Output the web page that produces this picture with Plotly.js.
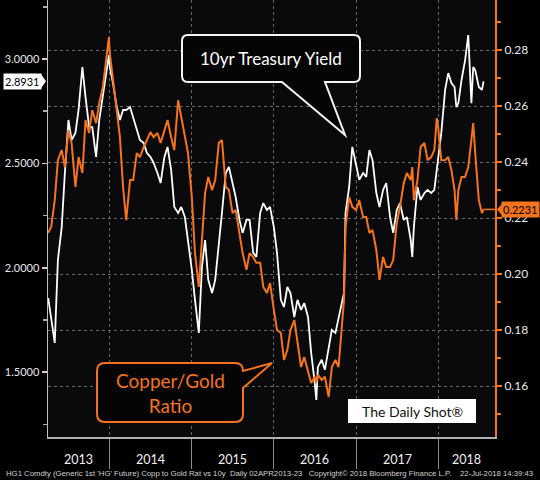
<!DOCTYPE html>
<html><head><meta charset="utf-8">
<script src="https://cdn.plot.ly/plotly-3.0.1.min.js"></script>
<style>html,body{margin:0;padding:0;background:#000;}#chart{width:540px;height:480px;}</style>
</head><body><div id="chart"></div>
<script>
// ---- data ----
const dates = [
'2013-04-02','2013-04-15','2013-05-01','2013-05-15','2013-06-01','2013-06-15','2013-07-01','2013-07-15','2013-08-01','2013-08-15','2013-09-01','2013-09-15','2013-10-01','2013-10-15','2013-11-01','2013-11-15','2013-12-01','2013-12-15','2013-12-28',
'2014-01-01','2014-01-15','2014-02-01','2014-02-15','2014-03-01','2014-03-15','2014-04-01','2014-04-15','2014-05-01','2014-05-15','2014-06-01','2014-06-15','2014-07-01','2014-07-15','2014-08-01','2014-08-15','2014-09-01','2014-09-15','2014-10-01','2014-10-15','2014-11-01','2014-11-15','2014-12-01','2014-12-15',
'2015-01-01','2015-01-15','2015-02-01','2015-02-15','2015-03-01','2015-03-15','2015-04-01','2015-04-15','2015-05-01','2015-05-15','2015-06-01','2015-06-15','2015-07-01','2015-07-15','2015-08-01','2015-08-15','2015-09-01','2015-09-15','2015-10-01','2015-10-15','2015-11-01','2015-11-15','2015-12-01','2015-12-15',
'2016-01-01','2016-01-15','2016-02-01','2016-02-15','2016-03-01','2016-03-15','2016-04-01','2016-04-15','2016-05-01','2016-05-15','2016-06-01','2016-06-15','2016-07-01','2016-07-08','2016-07-15','2016-08-01','2016-08-15','2016-09-01','2016-09-15','2016-10-01','2016-10-15','2016-11-01','2016-11-08','2016-11-15','2016-12-01','2016-12-15',
'2017-01-01','2017-01-15','2017-02-01','2017-02-15','2017-03-01','2017-03-15','2017-04-01','2017-04-15','2017-05-01','2017-05-15','2017-06-01','2017-06-15','2017-07-01','2017-07-15','2017-08-01','2017-08-15','2017-09-01','2017-09-08','2017-09-15','2017-10-01','2017-10-15','2017-11-01','2017-11-15','2017-12-01','2017-12-15','2017-12-26',
'2018-01-01','2018-01-15','2018-02-01','2018-02-15','2018-03-01','2018-03-15','2018-03-23','2018-04-01','2018-04-15','2018-05-01','2018-05-15','2018-05-29','2018-06-06','2018-06-15','2018-07-01','2018-07-15','2018-07-22'
];
const treasury10y = [
1.855,1.764,1.640,2.037,2.195,2.454,2.708,2.612,2.646,2.756,2.962,2.818,2.674,2.674,2.531,2.708,2.818,2.914,3.019,
2.962,2.885,2.770,2.708,2.756,2.756,2.770,2.722,2.670,2.612,2.598,2.550,2.531,2.502,2.454,2.406,2.531,2.579,2.468,2.291,2.263,2.291,2.243,2.133,
1.990,1.846,1.688,2.004,2.133,1.942,1.879,1.942,2.133,2.263,2.454,2.483,2.406,2.339,2.229,2.167,2.229,2.229,2.071,2.052,2.263,2.310,2.277,2.291,
2.195,2.071,1.846,1.812,1.908,1.879,1.764,1.846,1.798,1.831,1.764,1.592,1.448,1.367,1.525,1.559,1.511,1.606,1.702,1.688,1.764,1.846,1.879,2.263,2.387,2.579,
2.483,2.421,2.454,2.435,2.564,2.516,2.358,2.291,2.373,2.406,2.243,2.167,2.277,2.310,2.229,2.243,2.133,2.052,2.195,2.387,2.325,2.358,2.373,2.358,2.373,2.468,
2.502,2.646,2.852,2.933,2.885,2.866,2.770,2.789,2.899,2.995,3.115,2.789,2.962,2.947,2.866,2.852,2.8931
];
const copperGold = [
0.2147,0.2168,0.2264,0.2407,0.2443,0.2382,0.2514,0.2468,0.2311,0.2418,0.2361,0.2550,0.2504,0.2586,0.2539,0.2611,0.2668,0.2764,0.2846,
0.2789,0.2693,0.2575,0.2489,0.2311,0.2193,0.2336,0.2336,0.2432,0.2418,0.2454,0.2479,0.2507,0.2489,0.2504,0.2468,0.2514,0.2550,0.2489,0.2443,0.2621,0.2561,0.2489,0.2432,
0.2275,0.2075,0.1954,0.2122,0.2289,0.2347,0.2300,0.2336,0.2468,0.2479,0.2311,0.2300,0.2218,0.2229,0.2147,0.2075,0.2015,0.2075,0.2061,0.2040,0.2040,0.1954,0.1932,0.1968,
0.1872,0.1800,0.1790,0.1693,0.1729,0.1800,0.1836,0.1765,0.1668,0.1704,0.1658,0.1611,0.1633,0.1611,0.1640,0.1622,0.1633,0.1561,0.1668,0.1693,0.1668,0.1836,0.1907,0.2168,0.2275,0.2240,
0.2229,0.2264,0.2204,0.2204,0.2147,0.2157,0.2086,0.1979,0.2061,0.2025,0.2025,0.2050,0.2182,0.2240,0.2325,0.2361,0.2336,0.2382,0.2264,0.2336,0.2454,0.2468,0.2407,0.2418,0.2443,0.2557,
0.2525,0.2407,0.2407,0.2418,0.2372,0.2300,0.2193,0.2300,0.2347,0.2347,0.2382,0.2479,0.2539,0.2432,0.2264,0.2218,0.2231
];
const yearLabels = ['2013','2014','2015','2016','2017','2018'];
const footerText = "HG1 Comdty (Generic 1st 'HG' Future) Copp to Gold Rat vs 10y\u00a0\u00a0Daily 02APR2013-23\u00a0\u00a0\u00a0Copyright\u00a9 2018 Bloomberg Finance L.P.\u00a0\u00a0\u00a0\u00a022-Jul-2018 14:39:43";

// ---- layout helpers ----
const W = 540, H = 480;
const M = {l: 48, r: 45, t: 0, b: 43};
const L = M.l, R = W - M.r, T = M.t, B = H - M.b;
const px = x => (x - L) / (R - L);
const py = y => (B - y) / (B - T);
const ORANGE = '#f5731c';
const xStart = '2013-04-01', xEnd = '2018-09-11';

function paperPath(segs) {
  return segs.map(s => {
    if (s[0] === 'Z') return 'Z';
    const out = [s[0]];
    for (let i = 1; i < s.length; i += 2) out.push(px(s[i]).toFixed(5) + ',' + py(s[i + 1]).toFixed(5));
    return out.join(' ');
  }).join(' ');
}

const lastT = treasury10y[treasury10y.length - 1];
const lastC = copperGold[copperGold.length - 1];
const lastDate = dates[dates.length - 1];

// year boundaries and centred labels
const t0 = new Date(xStart).getTime(), t1 = new Date(xEnd).getTime();
const boundaries = yearLabels.slice(1).map(y => y + '-01-01');
const yearAnn = yearLabels.map(y => {
  const a = Math.max(new Date(y + '-01-01').getTime(), t0);
  const b = Math.min(new Date((+y + 1) + '-01-01').getTime(), t1);
  return {
    x: new Date((a + b) / 2).toISOString().slice(0, 10), xref: 'x', xanchor: 'center',
    y: py(459), yref: 'paper', yanchor: 'middle', text: y, showarrow: false,
    font: {family: 'Lato', size: 12.5, color: '#f0f0f0'}
  };
});

const traces = [
  {x: dates, y: copperGold, yaxis: 'y2', type: 'scatter', mode: 'lines',
   line: {color: ORANGE, width: 2}, name: 'Copper/Gold Ratio'},
  {x: dates, y: treasury10y, yaxis: 'y', type: 'scatter', mode: 'lines',
   line: {color: '#ffffff', width: 1.8}, name: '10yr Treasury Yield'}
];

const callout1 = [['M',188,35],['L',354,35],['Q',360,35,360,41],['L',360,76],['Q',360,82,354,82],['L',325,82],['L',345,135],['L',282,82],['L',188,82],['Q',182,82,182,76],['L',182,41],['Q',182,35,188,35],['Z']];
const callout2 = [['M',105,363],['L',235,363],['Q',243,363,243,371],['L',272,363],['L',243,388],['L',243,414],['Q',243,422,235,422],['L',105,422],['Q',97,422,97,414],['L',97,371],['Q',97,363,105,363],['Z']];

const layout = {
  width: W, height: H, margin: M,
  paper_bgcolor: '#000000', plot_bgcolor: '#0a0a0d',
  showlegend: false,
  font: {family: 'Lato', color: '#e8e8e8'},
  xaxis: {
    type: 'date', range: [xStart, xEnd],
    tickmode: 'array', tickvals: boundaries, showticklabels: false,
    ticks: 'outside', ticklen: 30, tickcolor: '#8a8a8a', tickwidth: 1,
    showgrid: true, gridcolor: '#666', griddash: 'dot', gridwidth: 1,
    showline: true, linecolor: '#b0b0b0', linewidth: 1.5, zeroline: false
  },
  yaxis: {
    range: [1.189, 3.283], tick0: 0, dtick: 0.5, tickformat: '.4f',
    ticks: 'outside', ticklen: 5, tickwidth: 1.5, tickcolor: '#d0d0d0',
    tickfont: {family: 'Lato', size: 11, color: '#e8e8e8'},
    minor: {tick0: 0, dtick: 0.25, ticks: 'outside', ticklen: 4, tickcolor: '#b0b0b0'},
    showgrid: false, zeroline: false, showline: true, linecolor: '#c0c0c0', linewidth: 1.5
  },
  yaxis2: {
    overlaying: 'y', side: 'right',
    range: [0.1418, 0.2979], tick0: 0, dtick: 0.02, tickformat: '.2f',
    ticks: 'outside', ticklen: 5, tickwidth: 1.5, tickcolor: ORANGE,
    tickfont: {family: 'Lato', size: 12, color: '#e8e8e8'},
    minor: {tick0: 0, dtick: 0.01, ticks: 'outside', ticklen: 4, tickcolor: ORANGE},
    showgrid: true, gridcolor: '#6a6a6a', griddash: 'dot', gridwidth: 1,
    zeroline: false, showline: true, linecolor: ORANGE, linewidth: 2
  },
  shapes: [
    {type: 'line', xref: 'x', yref: 'y2', x0: lastDate, x1: xEnd, y0: lastC, y1: lastC,
     line: {color: ORANGE, width: 1.5}},
    {type: 'path', xref: 'paper', yref: 'paper', path: paperPath(callout1),
     line: {color: '#f4f4f4', width: 2}, fillcolor: '#050505'},
    {type: 'path', xref: 'paper', yref: 'paper', path: paperPath(callout2),
     line: {color: ORANGE, width: 2}, fillcolor: '#050505'},
    {type: 'rect', xref: 'paper', yref: 'paper', x0: px(348), x1: px(476), y0: py(423), y1: py(399),
     line: {width: 0}, fillcolor: '#ffffff'},
    {type: 'path', xref: 'paper', yref: 'y2', xsizemode: 'pixel', ysizemode: 'pixel',
     xanchor: 1, yanchor: lastC, path: 'M 2 0 L 8 7 L 8 -7 Z', line: {width: 0}, fillcolor: ORANGE},
    {type: 'path', xref: 'paper', yref: 'y', xsizemode: 'pixel', ysizemode: 'pixel',
     xanchor: 0, yanchor: lastT, path: 'M -2 0 L -7 7 L -7 -7 Z', line: {width: 0}, fillcolor: '#ffffff'}
  ],
  annotations: [
    ...yearAnn,
    {xref: 'paper', yref: 'paper', x: px(271), y: py(58), xanchor: 'center', yanchor: 'middle',
     text: '10yr Treasury Yield', showarrow: false,
     font: {family: 'Lato', size: 17, color: '#ffffff'}},
    {xref: 'paper', yref: 'paper', x: px(170), y: py(393), xanchor: 'center', yanchor: 'middle',
     text: 'Copper/Gold<br>Ratio', showarrow: false,
     font: {family: 'Lato', size: 19, color: ORANGE}},
    {xref: 'paper', yref: 'paper', x: px(412), y: py(411), xanchor: 'center', yanchor: 'middle',
     text: 'The Daily Shot\u00ae', showarrow: false,
     font: {family: 'Lato', size: 14, color: '#111111'}},
    {xref: 'paper', yref: 'y', x: 0, xanchor: 'right', xshift: -6, y: lastT, yanchor: 'middle',
     text: lastT.toFixed(4), showarrow: false, bgcolor: '#ffffff', borderpad: 1,
     font: {family: 'Lato', size: 11, color: '#000000'}},
    {xref: 'paper', yref: 'y2', x: 1, xanchor: 'left', xshift: 6, y: lastC, yanchor: 'middle',
     text: lastC.toFixed(4), showarrow: false, bgcolor: ORANGE, borderpad: 1,
     font: {family: 'Lato', size: 11, color: '#000000'}},
    {xref: 'paper', yref: 'paper', x: px(4), xanchor: 'left', y: py(473), yanchor: 'middle',
     text: footerText, showarrow: false,
     font: {family: 'Liberation Sans', size: 7.75, color: '#d0d0d0'}}
  ]
};

Plotly.newPlot('chart', traces, layout, {staticPlot: true, displayModeBar: false});
</script>
</body></html>
